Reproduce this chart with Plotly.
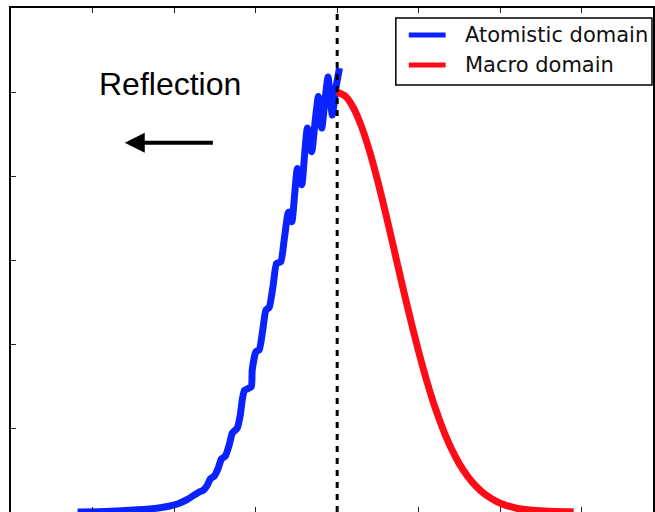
import plotly.graph_objects as go

# Atomistic domain: incoming pulse with lattice ripples (x < 0)
atom_x = [-3.183, -2.851, -2.545, -2.301, -2.117, -1.958, -1.836,
          -1.690, -1.641, -1.592, -1.555, -1.506, -1.457, -1.421, -1.372,
          -1.323, -1.286, -1.225, -1.188, -1.164, -1.136, -1.054, -1.042,
          -0.996, -0.956, -0.913, -0.874, -0.834, -0.785, -0.744, -0.691,
          -0.650, -0.598, -0.556, -0.522, -0.488, -0.434, -0.400, -0.366,
          -0.312, -0.271, -0.231, -0.189, -0.149, -0.112, -0.060, -0.015, 0.028]
atom_y = [0.000, 0.001, 0.004, 0.007, 0.012, 0.019, 0.030,
          0.048, 0.052, 0.064, 0.079, 0.086, 0.105, 0.126, 0.133,
          0.160, 0.188, 0.200, 0.231, 0.267, 0.290, 0.298, 0.338,
          0.382, 0.386, 0.433, 0.481, 0.487, 0.540, 0.592, 0.596,
          0.648, 0.714, 0.691, 0.755, 0.818, 0.779, 0.850, 0.914,
          0.858, 0.929, 0.989, 0.914, 0.981, 1.036, 0.945, 1.010, 1.057]

# Macro domain: smooth pulse (x >= 0)
macro_x = [0.0, 0.1, 0.2, 0.3, 0.4, 0.5, 0.6, 0.7, 0.8, 0.9, 1.0,
           1.1, 1.2, 1.3, 1.4, 1.5, 1.6, 1.7, 1.8, 1.9, 2.0,
           2.2, 2.4, 2.6, 2.8, 2.9]
macro_y = [1.000, 0.990, 0.962, 0.917, 0.857, 0.786, 0.707, 0.623, 0.539, 0.458, 0.381,
           0.311, 0.249, 0.196, 0.151, 0.114, 0.085, 0.062, 0.044, 0.031, 0.021,
           0.009, 0.004, 0.0015, 0.0005, 0.0003]

interface_x = 0.0
x_ticks = [-3, -2, -1, 0, 1, 2, 3]
y_ticks = [0.2, 0.4, 0.6, 0.8, 1.0]

series_names = ["Atomistic domain", "Macro domain"]
series_colors = ["#0a22ff", "#ff0a17"]

fig = go.Figure()
fig.add_trace(go.Scatter(x=atom_x, y=atom_y, mode="lines", name=series_names[0],
                         showlegend=False,
                         line=dict(color=series_colors[0], width=7, shape="spline", smoothing=0.5)))
fig.add_trace(go.Scatter(x=macro_x, y=macro_y, mode="lines", name=series_names[1],
                         showlegend=False,
                         line=dict(color=series_colors[1], width=7, shape="spline", smoothing=0.6)))
fig.add_trace(go.Scatter(x=[interface_x, interface_x], y=[0, 1.2], mode="lines",
                         showlegend=False, hoverinfo="skip",
                         line=dict(color="black", width=3, dash="6px,6px")))

fig.add_annotation(x=-2.05, y=1.019, xref="x", yref="y", text="Reflection",
                   showarrow=False, xanchor="center", yanchor="middle",
                   font=dict(family="Liberation Sans", size=32, color="black"))
fig.add_annotation(x=-2.605, y=0.879, ax=-1.506, ay=0.879, axref="x", ayref="y",
                   xref="x", yref="y", text="", showarrow=True,
                   arrowhead=2, arrowsize=1, arrowwidth=4, arrowcolor="black", standoff=0)

# Legend box in the upper right corner, drawn in paper coordinates
fig.add_shape(type="rect", xref="paper", yref="paper", x0=0.5994, x1=0.9984,
              y0=0.8472, y1=0.9802, line=dict(color="black", width=1.5),
              fillcolor="white", layer="above")
for i, (name, color) in enumerate(zip(series_names, series_colors)):
    row_y = 0.9464 - i * 0.0595
    fig.add_shape(type="line", xref="paper", yref="paper", x0=0.6196, x1=0.6770,
                  y0=row_y, y1=row_y, line=dict(color=color, width=5), layer="above")
    fig.add_annotation(x=0.7034, y=row_y, xref="paper", yref="paper", text=name,
                       showarrow=False, xanchor="left", yanchor="middle",
                       font=dict(family="DejaVu Sans", size=21, color="#111111"))

axis_common = dict(showgrid=False, zeroline=False, showline=True, linecolor="black",
                   linewidth=1.5, ticks="inside", ticklen=5, tickwidth=1,
                   tickcolor="#222222", showticklabels=False)

fig.update_layout(
    width=655, height=512, autosize=False,
    margin=dict(l=11, r=0, t=8, b=0, pad=0),
    paper_bgcolor="white", plot_bgcolor="white",
    xaxis=dict(range=[-4.0, 3.873], tickvals=x_ticks, mirror="ticks", **axis_common),
    yaxis=dict(range=[0, 1.2], tickvals=y_ticks, mirror=True, **axis_common),
    showlegend=False,
)

fig.write_html("out.html")
